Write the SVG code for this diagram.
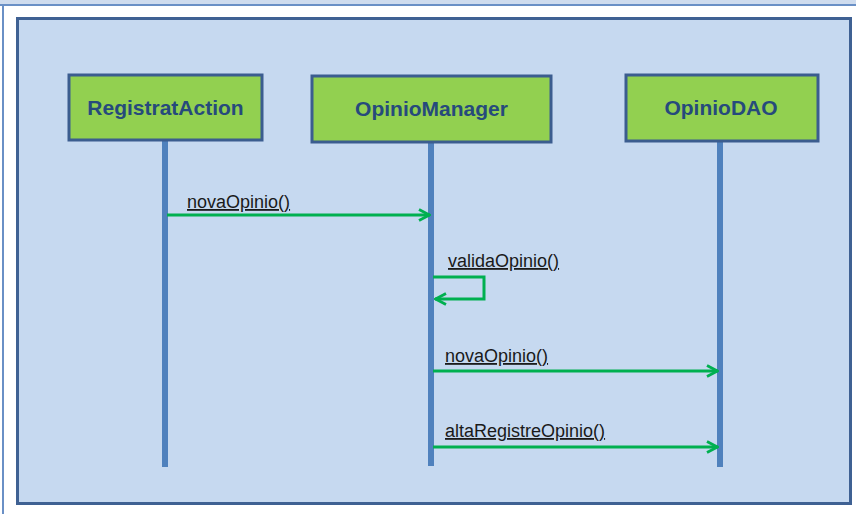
<svg xmlns="http://www.w3.org/2000/svg" width="856" height="514" viewBox="0 0 856 514">
<defs>
<style>
.node rect{fill:#92d050;stroke:#3b5d8f;stroke-width:3}
.node text{font-family:"Liberation Sans",Arial,sans-serif;font-weight:bold;font-size:21px;fill:#264a7c;text-anchor:middle}
.life{stroke:#4f81bd;stroke-width:6}
.msg{stroke:#00b050;stroke-width:3;fill:none}
.lbl{font-family:"Liberation Sans",Arial,sans-serif;font-size:18px;fill:#1a1a1a;text-decoration:underline}
</style>
<marker id="arr" viewBox="0 0 14 14" refX="13" refY="7" markerWidth="14" markerHeight="14" markerUnits="userSpaceOnUse" orient="auto">
<path d="M2,1.5 L12.5,7 L2,12.5" fill="none" stroke="#00b050" stroke-width="2.8"/>
</marker>
</defs>
<rect x="0" y="0" width="856" height="514" fill="#ffffff"/>
<rect x="0" y="0" width="856" height="5" fill="#cfdcee"/>
<line x1="0" y1="5" x2="856" y2="5" stroke="#6a90c6" stroke-width="2"/>
<line x1="3" y1="5" x2="3" y2="514" stroke="#6a90c6" stroke-width="2"/>
<rect x="17.5" y="18.5" width="833" height="485" fill="#c6d9f0" stroke="#3f6193" stroke-width="3"/>
<g id="lifelines">
<line class="life" x1="165" y1="141" x2="165" y2="467"/>
<line class="life" x1="431" y1="142" x2="431" y2="466"/>
<line class="life" x1="720" y1="141" x2="720" y2="467"/>
</g>
<g id="RegistratAction" class="node">
<rect x="69" y="75" width="193" height="65"/>
<text x="165.5" y="115">RegistratAction</text>
</g>
<g id="OpinioManager" class="node">
<rect x="312" y="76" width="239" height="66"/>
<text x="431.5" y="116">OpinioManager</text>
</g>
<g id="OpinioDAO" class="node">
<rect x="626" y="75" width="192" height="66"/>
<text x="721" y="115">OpinioDAO</text>
</g>
<g id="connectors">
<line class="msg" x1="167" y1="215" x2="430" y2="215" marker-end="url(#arr)"/>
<polyline class="msg" points="433,277 484,277 484,299 435,299" marker-end="url(#arr)"/>
<line class="msg" x1="433" y1="371" x2="718" y2="371" marker-end="url(#arr)"/>
<line class="msg" x1="433" y1="447" x2="718" y2="447" marker-end="url(#arr)"/>
</g>
<g id="labels">
<text class="lbl" x="187" y="208">novaOpinio()</text>
<text class="lbl" x="448" y="267">validaOpinio()</text>
<text class="lbl" x="445" y="362">novaOpinio()</text>
<text class="lbl" x="445" y="437">altaRegistreOpinio()</text>
</g>
</svg>
